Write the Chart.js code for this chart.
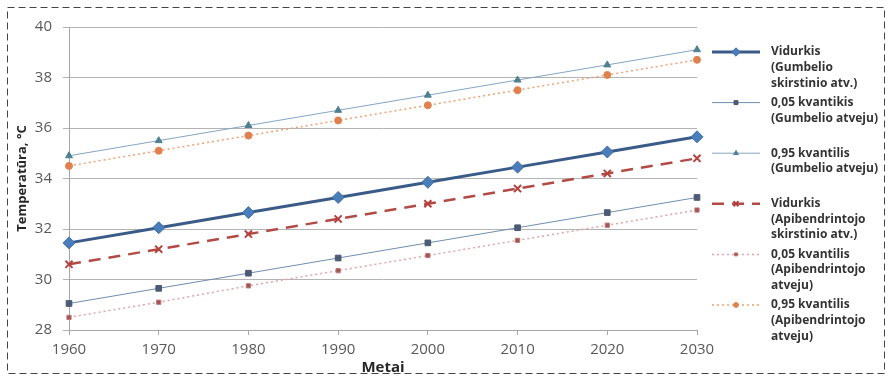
<!DOCTYPE html>
<html>
<head>
<meta charset="utf-8">
<script src="https://cdn.jsdelivr.net/npm/chart.js@4.4.1/dist/chart.umd.min.js"></script>
<style>
  html, body { margin: 0; padding: 0; background: #fff; }
  canvas { display: block; }
</style>
</head>
<body>
<canvas id="myChart" width="889" height="378"></canvas>
<script>
// duomenys nuskaityti nuo paveikslo
const metai = ['1960', '1970', '1980', '1990', '2000', '2010', '2020', '2030'];
const vidurkisGumbel = [31.45, 32.05, 32.65, 33.25, 33.85, 34.45, 35.05, 35.65];
const kv05Gumbel = [29.05, 29.65, 30.25, 30.85, 31.45, 32.05, 32.65, 33.25];
const kv95Gumbel = [34.9, 35.5, 36.1, 36.7, 37.3, 37.9, 38.5, 39.1];
const vidurkisApib = [30.6, 31.2, 31.8, 32.4, 33.0, 33.6, 34.2, 34.8];
const kv05Apib = [28.5, 29.1, 29.75, 30.35, 30.95, 31.55, 32.15, 32.75];
const kv95Apib = [34.5, 35.1, 35.7, 36.3, 36.9, 37.5, 38.1, 38.7];
const legendLabels = [
  ['Vidurkis', '(Gumbelio', 'skirstinio atv.)'],
  ['0,05 kvantikis', '(Gumbelio atveju)'],
  ['0,95 kvantilis', '(Gumbelio atveju)'],
  ['Vidurkis', '(Apibendrintojo', 'skirstinio atv.)'],
  ['0,05 kvantilis', '(Apibendrintojo', 'atveju)'],
  ['0,95 kvantilis', '(Apibendrintojo', 'atveju)']
];

const FONT = '"Open Sans", "Noto Sans", sans-serif';

// legenda dešinėje, keliomis eilutėmis
const sideLegend = {
  id: 'sideLegend',
  afterDraw(chart) {
    const ctx = chart.ctx;
    const x0 = 712, x1 = 760, tx = 771;
    chart.data.datasets.forEach((ds, i) => {
      const y = 52 + i * 50.6;
      ctx.save();
      ctx.strokeStyle = ds.borderColor;
      ctx.lineWidth = ds.borderWidth;
      ctx.setLineDash(ds.borderDash || []);
      ctx.beginPath();
      ctx.moveTo(x0, y);
      ctx.lineTo(x1, y);
      ctx.stroke();
      ctx.setLineDash([]);
      ctx.fillStyle = ds.pointBackgroundColor;
      ctx.strokeStyle = ds.pointBorderColor;
      ctx.lineWidth = ds.pointBorderWidth;
      Chart.helpers.drawPoint(ctx, {
        pointStyle: ds.pointStyle,
        radius: ds.pointRadius * 0.7,
        borderWidth: ds.pointBorderWidth,
        rotation: 0
      }, (x0 + x1) / 2, y);
      ctx.fillStyle = '#333333';
      ctx.font = 'bold 12px ' + FONT;
      ctx.textBaseline = 'middle';
      legendLabels[i].forEach((t, j) => ctx.fillText(t, tx, y + j * 15.6));
      ctx.restore();
    });

    // punktyrinis rėmelis aplink visą paveikslą
    ctx.save();
    ctx.strokeStyle = '#444';
    ctx.lineWidth = 1;
    ctx.setLineDash([7, 4]);
    ctx.strokeRect(7.5, 7.5, 877, 366);
    ctx.restore();
  }
};

new Chart(document.getElementById('myChart').getContext('2d'), {
  type: 'line',
  data: {
    labels: metai,
    datasets: [
      {
        label: 'Vidurkis (Gumbelio skirstinio atv.)',
        data: vidurkisGumbel,
        borderColor: '#3a5b88',
        borderWidth: 3,
        pointStyle: 'rectRot',
        pointRadius: 6,
        pointBackgroundColor: '#4a7ebb',
        pointBorderColor: '#3f6ea6',
        pointBorderWidth: 1
      },
      {
        label: '0,05 kvantikis (Gumbelio atveju)',
        data: kv05Gumbel,
        borderColor: '#6f8db0',
        borderWidth: 1,
        pointStyle: 'rect',
        pointRadius: 4,
        pointBackgroundColor: '#4d5a74',
        pointBorderColor: '#4d5a74',
        pointBorderWidth: 1
      },
      {
        label: '0,95 kvantilis (Gumbelio atveju)',
        data: kv95Gumbel,
        borderColor: '#86a4c4',
        borderWidth: 1,
        pointStyle: 'triangle',
        pointRadius: 4,
        pointBackgroundColor: '#4f8090',
        pointBorderColor: '#4f8090',
        pointBorderWidth: 1
      },
      {
        label: 'Vidurkis (Apibendrintojo skirstinio atv.)',
        data: vidurkisApib,
        borderColor: '#b24b45',
        borderWidth: 2.5,
        borderDash: [12, 8],
        pointStyle: 'crossRot',
        pointRadius: 5,
        pointBackgroundColor: '#b5403c',
        pointBorderColor: '#b5403c',
        pointBorderWidth: 2
      },
      {
        label: '0,05 kvantilis (Apibendrintojo atveju)',
        data: kv05Apib,
        borderColor: '#e3a3a3',
        borderWidth: 1.5,
        borderDash: [2, 3],
        pointStyle: 'rect',
        pointRadius: 3,
        pointBackgroundColor: '#9c5656',
        pointBorderColor: '#c07878',
        pointBorderWidth: 1
      },
      {
        label: '0,95 kvantilis (Apibendrintojo atveju)',
        data: kv95Apib,
        borderColor: '#f0a070',
        borderWidth: 1.5,
        borderDash: [2, 3],
        pointStyle: 'circle',
        pointRadius: 3.5,
        pointBackgroundColor: '#e0804e',
        pointBorderColor: '#e0804e',
        pointBorderWidth: 1
      }
    ]
  },
  options: {
    responsive: false,
    animation: false,
    layout: { padding: { left: 0, right: 192, top: 27, bottom: 0 } },
    plugins: {
      legend: { display: false },
      tooltip: { enabled: false }
    },
    scales: {
      x: {
        offset: false,
        grid: { display: true, drawOnChartArea: false, drawTicks: true, tickLength: 5, color: '#a6a6a6' },
        border: { display: true, color: '#a6a6a6' },
        ticks: { padding: 6, color: '#595959', font: { family: FONT, size: 15 }, maxRotation: 0 },
        title: { display: true, text: 'Metai', color: '#262626', font: { family: FONT, size: 15, weight: 'bold' }, padding: { top: 0, bottom: 1 } },
        afterFit(scale) { scale.height = 48; }
      },
      y: {
        min: 28,
        max: 40,
        ticks: { stepSize: 2, padding: 11, color: '#595959', font: { family: FONT, size: 15 } },
        grid: { color: '#b3b3b3', tickLength: 6 },
        border: { display: true, color: '#a6a6a6' },
        title: { display: true, text: 'Temperatūra, °C', color: '#262626', font: { family: FONT, size: 13, weight: 'bold' }, padding: { top: 14, bottom: 0 } },
        afterFit(scale) { scale.width = 69; }
      }
    }
  },
  plugins: [sideLegend]
});
</script>
</body>
</html>
